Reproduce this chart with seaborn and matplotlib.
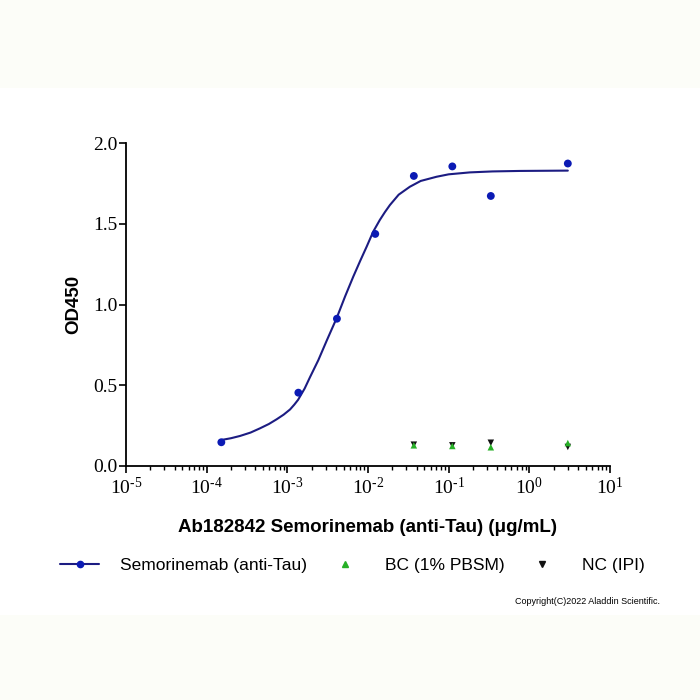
"""ELISA binding curve: Semorinemab (anti-Tau) vs blank / negative controls."""

import numpy as np
import pandas as pd
import matplotlib
matplotlib.use("Agg")
import matplotlib.pyplot as plt
import matplotlib.ticker as mticker
from matplotlib.lines import Line2D
from matplotlib.patches import Rectangle
import seaborn as sns

# ── Data ──────────────────────────────────────────────────────────────────────

conc_ab = [1.52e-4, 1.37e-3, 4.12e-3, 1.23e-2, 3.7e-2, 0.111, 0.333, 3.0]
od_ab = [0.147, 0.454, 0.912, 1.437, 1.796, 1.855, 1.672, 1.873]

# fitted curve as drawn in the reference, read at many points along its length
fit_conc = [1.52e-4, 2.0e-4, 2.59e-4, 3.5e-4, 4.57e-4, 5.9e-4, 7.36e-4,
            9.0e-4, 1.08e-3, 1.22e-3, 1.36e-3, 1.64e-3, 1.91e-3, 2.42e-3,
            3.1e-3, 4.08e-3, 5.2e-3, 6.56e-3, 8.0e-3, 9.62e-3, 1.16e-2,
            1.40e-2, 1.62e-2, 1.87e-2, 2.4e-2, 3.30e-2, 4.5e-2, 7.08e-2,
            0.1, 0.183, 0.35, 0.762, 1.5, 3.0]
fit_od = [0.161, 0.172, 0.186, 0.207, 0.233, 0.260, 0.289,
          0.318, 0.350, 0.380, 0.410, 0.480, 0.550, 0.655,
          0.780, 0.915, 1.050, 1.172, 1.270, 1.358, 1.451,
          1.523, 1.572, 1.616, 1.680, 1.729, 1.765, 1.791,
          1.806, 1.818, 1.824, 1.827, 1.828, 1.829]

conc_ctrl = [3.7e-2, 0.111, 0.333, 3.0]
od_bc = [0.128, 0.124, 0.116, 0.142]
od_nc = [0.132, 0.128, 0.144, 0.118]

x_ticks = [1e-5, 1e-4, 1e-3, 1e-2, 1e-1, 1e0, 1e1]
x_tick_labels = [r"$10^{\text{-5}}$", r"$10^{\text{-4}}$", r"$10^{\text{-3}}$",
                 r"$10^{\text{-2}}$", r"$10^{\text{-1}}$", r"$10^{0}$", r"$10^{1}$"]
y_ticks = [0.0, 0.5, 1.0, 1.5, 2.0]

NAVY = "#1c1c82"
BLUE = "#0b1ab4"
GREEN = "#27b027"
BLACK = "#111111"

# ── Style ────────────────────────────────────────────────────────────────────

sns.set_theme(style="ticks")
plt.rcParams.update({
    "font.family": ["Liberation Sans", "DejaVu Sans"],
    "text.color": "black",
    "axes.labelcolor": "black",
    "xtick.color": "black",
    "ytick.color": "black",
    "mathtext.fontset": "custom",
    "mathtext.rm": "Liberation Serif",
    "mathtext.it": "Liberation Serif:italic",
    "mathtext.bf": "Liberation Serif:bold",
})

fig = plt.figure(figsize=(7, 7), dpi=100, facecolor="white")
# faint cream bands at top and bottom of the reference image
fig.patches.append(Rectangle((0, 1 - 88 / 700), 1, 88 / 700, transform=fig.transFigure,
                             facecolor="#fcfdf8", edgecolor="none", zorder=-10))
fig.patches.append(Rectangle((0, 0), 1, 85 / 700, transform=fig.transFigure,
                             facecolor="#fcfdf8", edgecolor="none", zorder=-10))

ax = fig.add_axes([126 / 700, 1 - 466 / 700, 484 / 700, 323 / 700])
ax.set_facecolor("none")

df_fit = pd.DataFrame({"conc": fit_conc, "od": fit_od})
df_ab = pd.DataFrame({"conc": conc_ab, "od": od_ab})
df_bc = pd.DataFrame({"conc": conc_ctrl, "od": od_bc})
df_nc = pd.DataFrame({"conc": conc_ctrl, "od": od_nc})

sns.lineplot(data=df_fit, x="conc", y="od", color=NAVY, linewidth=1.5, ax=ax, zorder=3)
sns.scatterplot(data=df_ab, x="conc", y="od", color=BLUE, s=32, edgecolor="none",
                ax=ax, zorder=4)
sns.scatterplot(data=df_nc, x="conc", y="od", color=BLACK, marker="v", s=22,
                edgecolor="none", ax=ax, zorder=4)
sns.scatterplot(data=df_bc, x="conc", y="od", color=GREEN, marker="^", s=22,
                edgecolor="none", ax=ax, zorder=5)

ax.set_xscale("log")
ax.set_xlim(1e-5, 1e1)
ax.set_ylim(0, 2.0)
ax.set_xticks(x_ticks)
ax.set_xticklabels(x_tick_labels)
ax.xaxis.set_minor_locator(mticker.LogLocator(base=10, subs=np.arange(2, 10), numticks=20))
ax.xaxis.set_minor_formatter(mticker.NullFormatter())
ax.set_yticks(y_ticks)
ax.yaxis.set_major_formatter(mticker.FormatStrFormatter("%.1f"))

ax.tick_params(axis="both", which="major", direction="out", length=5, width=1.2,
               labelsize=14, labelfontfamily="Liberation Serif")
ax.tick_params(axis="x", which="major", pad=3)
ax.tick_params(axis="y", which="major", pad=1)
ax.tick_params(axis="x", which="minor", direction="out", length=3, width=1.0)

for side in ("left", "bottom"):
    ax.spines[side].set_linewidth(1.3)
    ax.spines[side].set_color("black")
sns.despine(ax=ax)

ax.set_xlabel("Ab182842 Semorinemab (anti-Tau) (μg/mL)", fontsize=13.5,
              fontweight="bold", labelpad=15)
ax.set_ylabel("OD450", fontsize=13.5, fontweight="bold", labelpad=8)

handles = [
    Line2D([], [], color=NAVY, linewidth=1.5, marker="o", markersize=4.5,
           markerfacecolor=BLUE, markeredgecolor=BLUE),
    Line2D([], [], linestyle="none", marker="^", markersize=4.5, color=GREEN),
    Line2D([], [], linestyle="none", marker="v", markersize=4.5, color=BLACK),
]
fig.legend(handles, ["Semorinemab (anti-Tau)", "BC (1% PBSM)", "NC (IPI)"],
           loc="center", bbox_to_anchor=(0.504, 1 - 565 / 700), ncol=3,
           frameon=False, fontsize=12.5, handlelength=2.2, handletextpad=1.2,
           columnspacing=1.1, labelcolor="black")

fig.text(660 / 700, 1 - 601 / 700, "Copyright(C)2022 Aladdin Scientific.",
         ha="right", va="center", fontsize=6.5, color="black")

fig.savefig("out.png", dpi=100, facecolor=fig.get_facecolor())
